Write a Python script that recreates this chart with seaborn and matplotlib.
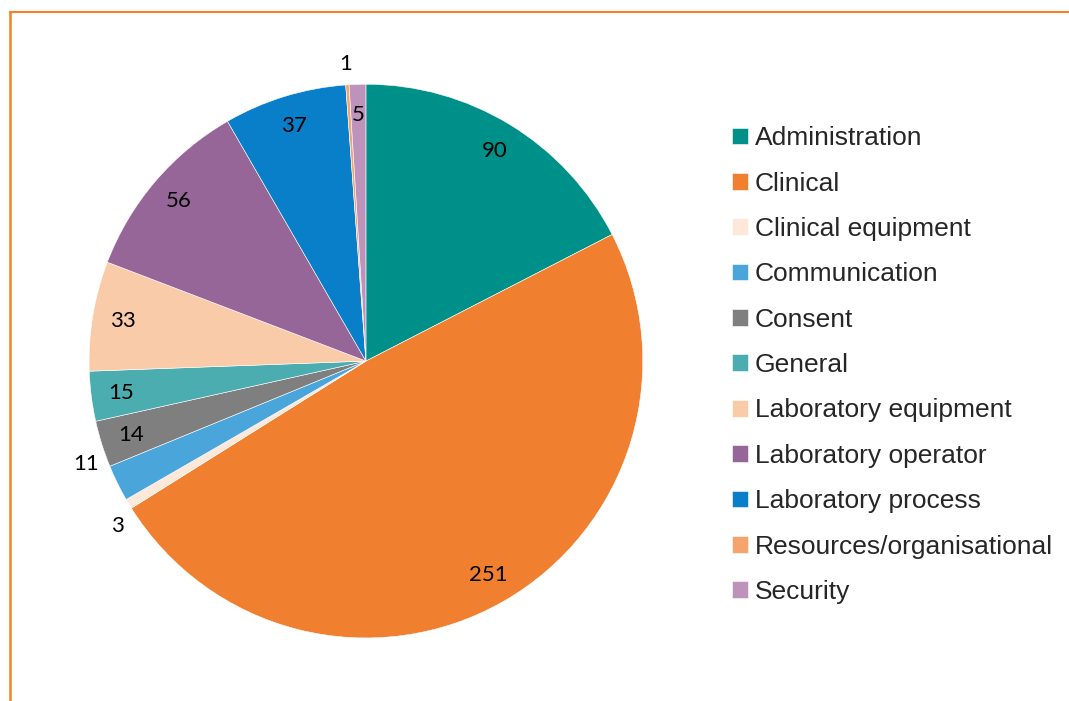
import matplotlib.pyplot as plt
import numpy as np
import seaborn as sns
from matplotlib.lines import Line2D

categories = [
    "Administration",
    "Clinical",
    "Clinical equipment",
    "Communication",
    "Consent",
    "General",
    "Laboratory equipment",
    "Laboratory operator",
    "Laboratory process",
    "Resources/organisational",
    "Security",
]
counts = [90, 251, 3, 11, 14, 15, 33, 56, 37, 1, 5]
colors = [
    "#00908A", "#F08030", "#FDE8DA", "#4AA6DA", "#7F7F7F", "#4BADAF",
    "#F9CBA9", "#976699", "#087FC8", "#F4A46C", "#BD93BB",
]
outside = ["Clinical equipment", "Communication", "Resources/organisational"]
# small slices bunched together: spread their labels apart a bit (degrees)
spread = {"Clinical equipment": 2.5, "Communication": -6.0}

sns.set_theme(style="white")
plt.rcParams["font.family"] = ["Liberation Sans", "DejaVu Sans"]

fig = plt.figure(figsize=(10.69, 7.01), dpi=100)
ax = fig.add_axes([0.0833, 0.0899, 0.518, 0.790])

wedges, _ = ax.pie(
    counts,
    colors=sns.color_palette(colors),
    startangle=90,
    counterclock=False,
    wedgeprops=dict(edgecolor="white", linewidth=0.4),
)
ax.set_xlim(-1, 1)
ax.set_ylim(-1, 1)
ax.set_aspect("equal")

for w, cat, n in zip(wedges, categories, counts):
    mid = np.deg2rad((w.theta1 + w.theta2) / 2 + spread.get(cat, 0))
    dist = 1.075 if cat in outside else 0.89
    ax.text(dist * np.cos(mid), dist * np.sin(mid), str(n),
            ha="center", va="center", fontsize=16, family="Lato", color="black")

fig.legend(
    wedges, categories,
    loc="upper left", bbox_to_anchor=(0.675, 0.835),
    frameon=False, fontsize=19,
    handlelength=0.6, handleheight=0.6, handletextpad=0.25,
    labelspacing=0.81, borderaxespad=0,
)

# orange frame on top and left
fig.add_artist(Line2D([10 / 1069, 1.0], [1 - 12 / 701, 1 - 12 / 701],
                      transform=fig.transFigure, color="#F58025", lw=1.5))
fig.add_artist(Line2D([10 / 1069, 10 / 1069], [0.0, 1 - 12 / 701],
                      transform=fig.transFigure, color="#F58025", lw=1.8))

fig.savefig("out.png", dpi=100)
